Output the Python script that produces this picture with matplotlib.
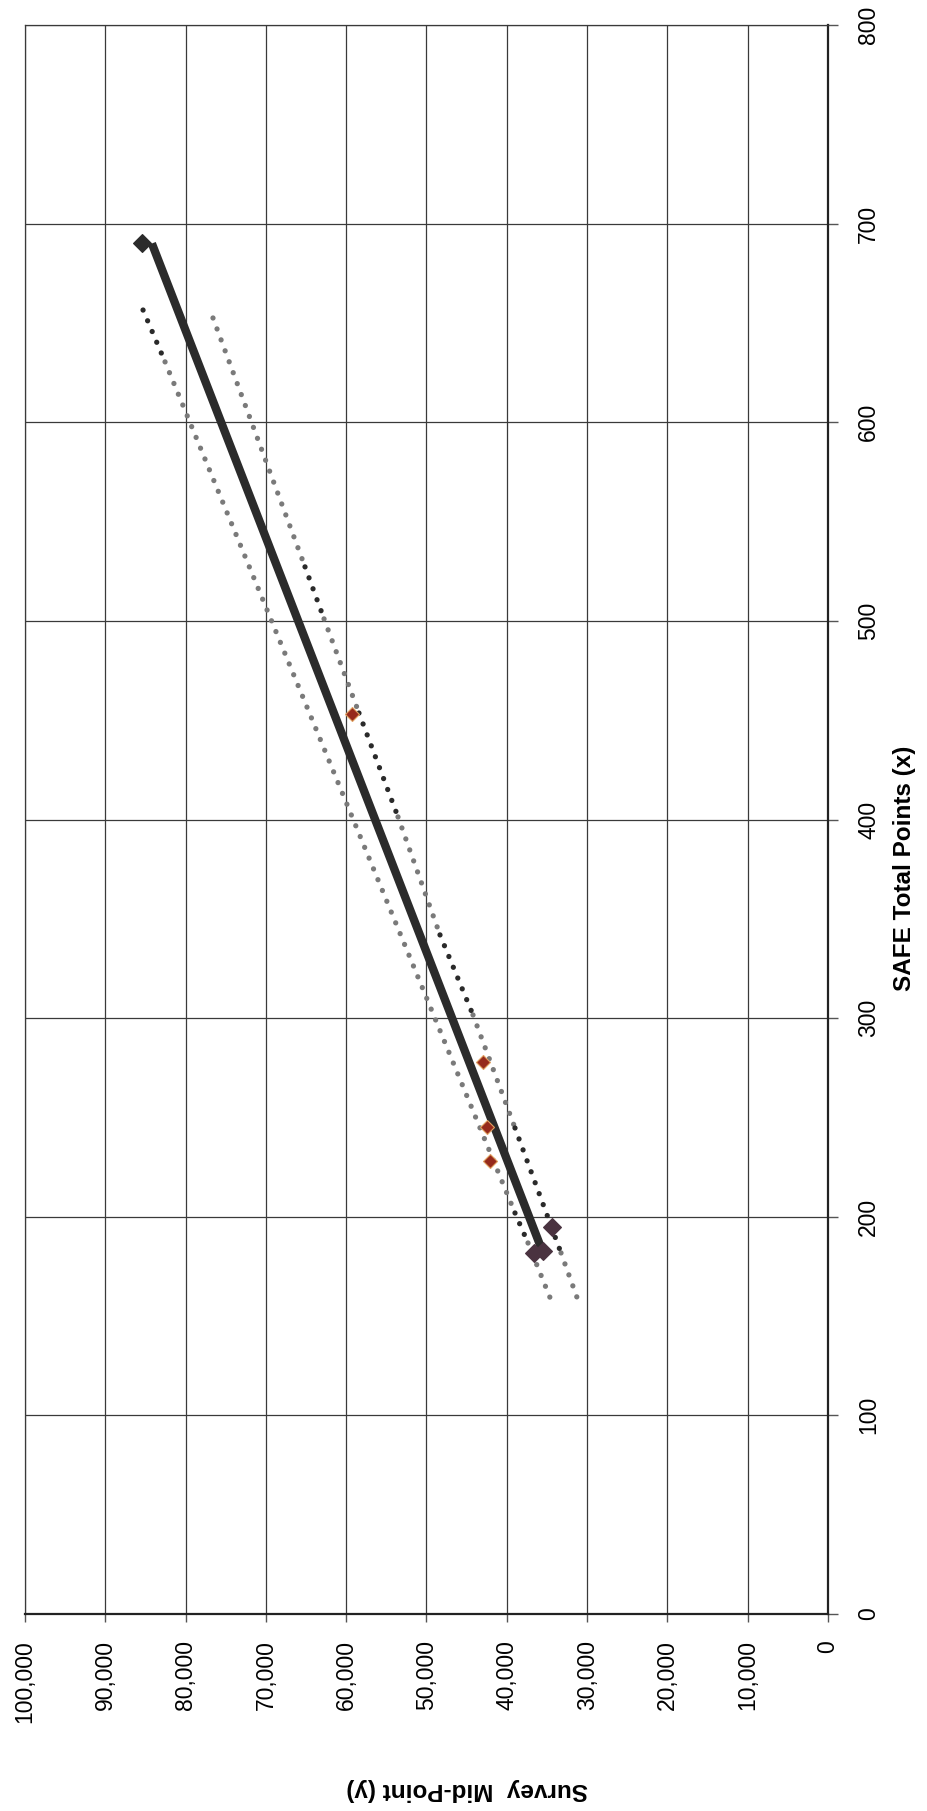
import matplotlib
matplotlib.use("Agg")
import matplotlib.pyplot as plt
from matplotlib import font_manager

safe_points = [690, 453, 278, 245, 228, 195, 183, 182]
mid_points = [85400, 59300, 43000, 42500, 42100, 34400, 35500, 36600]
point_colors = ['#2b2b2b', '#962a1c', '#962a1c', '#962a1c', '#962a1c', '#4a3340', '#4a3340', '#4a3340']
point_edges = ['#2b2b2b', '#e0a060', '#e0a060', '#e0a060', '#e0a060', '#4a3340', '#4a3340', '#4a3340']
point_sizes = [9, 7, 7, 7, 7, 9, 9, 9]

trend_x = [182, 690]
trend_y = [35500, 84200]

# dotted band lines, split where the scan shows grey vs dark dots
grey_segments = [
    ([630.4, 201.9], [82560, 38980]),
    ([186.8, 155.6], [37360, 34250]),
    ([652.5, 527.2], [76590, 65130]),
    ([501.0, 453.6], [62760, 58410]),
    ([401.3, 341.9], [53550, 48320]),
    ([301.6, 244.7], [44210, 38980]),
    ([181.8, 155.1], [33250, 30880]),
]
dark_segments = [
    ([656.5, 630.4], [85300, 82560]),
    ([201.9, 186.8], [38980, 37360]),
    ([527.2, 501.0], [65130, 62760]),
    ([453.6, 401.3], [58410, 53550]),
    ([341.9, 301.6], [48320, 44210]),
    ([244.7, 181.8], [38980, 33250]),
]

y_ticks = list(range(0, 100001, 10000))
y_tick_labels = ['0', '10,000', '20,000', '30,000', '40,000', '50,000',
                 '60,000', '70,000', '80,000', '90,000', '100,000']
x_ticks = list(range(0, 801, 100))

names = {f.name for f in font_manager.fontManager.ttflist}
if 'Liberation Sans Narrow' in names:
    fam, tick_fs, lab_fs = 'Liberation Sans Narrow', 21, 23
else:
    fam, tick_fs, lab_fs = 'Liberation Sans', 16.5, 17.5
plt.rcParams['font.family'] = [fam, 'DejaVu Sans']

W, H = 927, 1811
fig = plt.figure(figsize=(W / 100, H / 100), dpi=100)
ax = fig.add_axes([25 / W, 1 - 1614 / H, (828 - 25) / W, (1614 - 25) / H])

ax.set_xlim(100000, 0)
ax.set_ylim(0, 800)
ax.set_xticks(y_ticks)
ax.set_xticklabels(y_tick_labels, rotation=90, va='top', ha='center', fontsize=tick_fs)
ax.set_yticks(x_ticks)
ax.set_yticklabels([str(v) for v in x_ticks], rotation=90, va='center', ha='left', fontsize=tick_fs)
ax.yaxis.tick_right()
ax.tick_params(axis='x', length=6, width=1, color='#555555', pad=13)
ax.tick_params(axis='y', length=7, width=1, color='#555555', pad=14)

ax.grid(True, color='#3a3a3a', linewidth=0.9)
ax.set_axisbelow(True)
for s in ['left', 'top']:
    ax.spines[s].set_color('#3a3a3a')
    ax.spines[s].set_linewidth(0.9)
for s in ['right', 'bottom']:
    ax.spines[s].set_color('#222222')
    ax.spines[s].set_linewidth(1.6)

dots = dict(linestyle=(0, (0.01, 2.2)), linewidth=3.8, dash_capstyle='round')
for sx, sy in grey_segments:
    ax.plot(sy, sx, color='#7a7a7a', **dots, zorder=2)
for sx, sy in dark_segments:
    ax.plot(sy, sx, color='#2a2a2a', **dots, zorder=3)

ax.plot(trend_y, trend_x, color='#2b2b2b', linewidth=6, solid_capstyle='butt', zorder=4)

for px, py, c, e, m in zip(safe_points, mid_points, point_colors, point_edges, point_sizes):
    ax.plot(py, px, marker='D', markersize=m, color=c, markeredgecolor=e,
            markeredgewidth=0.8, linestyle='none', zorder=5)

fig.text(905 / W, 1 - 868 / H, 'SAFE Total Points (x)', rotation=90,
         ha='center', va='center', fontsize=lab_fs, fontweight='bold')
fig.text(467 / W, 1 - 1789 / H, 'Survey  Mid-Point (y)', rotation=180,
         ha='center', va='center', fontsize=lab_fs, fontweight='bold')

fig.savefig('out.png', dpi=100)
